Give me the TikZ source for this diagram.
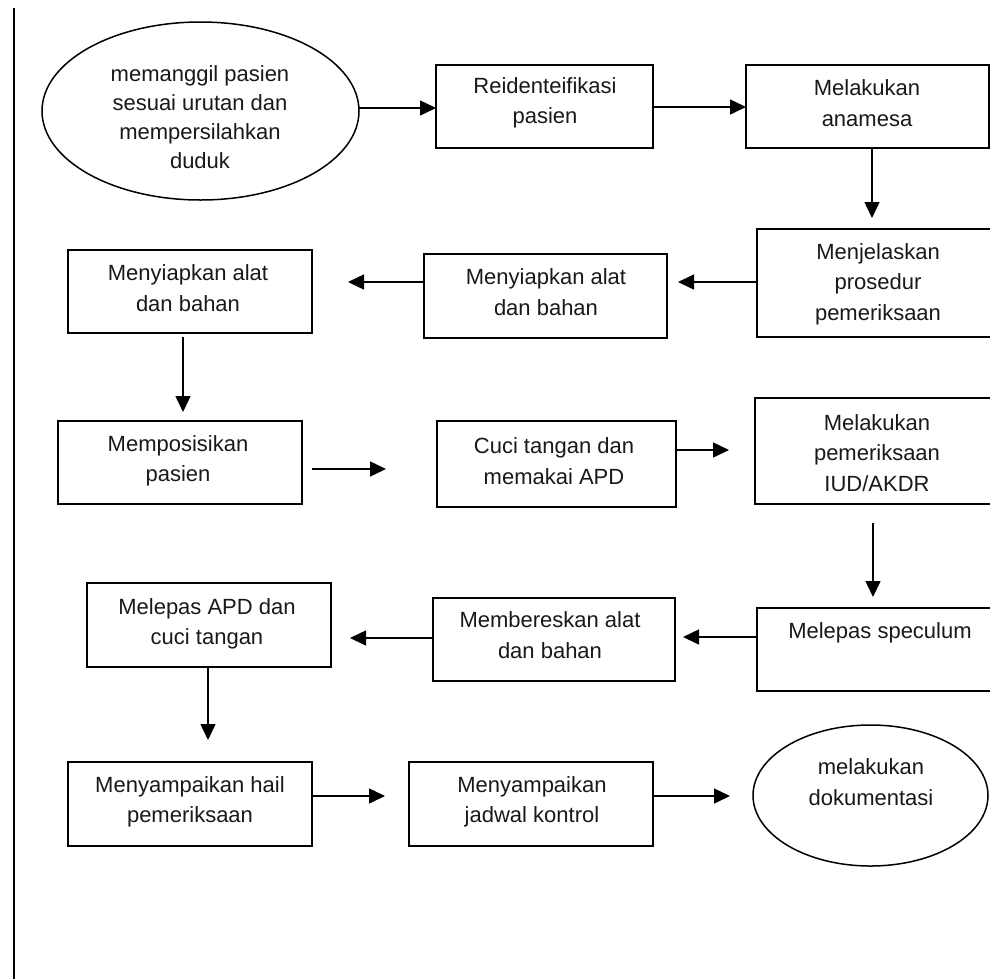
\documentclass[tikz,border=0pt]{standalone}
\usepackage{fontspec}
\setmainfont{Liberation Sans}
\usetikzlibrary{arrows.meta,shapes.geometric,calc}
\begin{document}
\begin{tikzpicture}[x=1pt,y=-1pt,
  box/.style={draw, line width=1.5pt, rectangle, inner sep=0pt, outer sep=0pt},
  oval/.style={draw, line width=1.5pt, ellipse, inner sep=0pt, outer sep=0pt},
  txt/.style={align=center, inner sep=0pt, text=black!90, font=\fontsize{22}{30.5}\selectfont},
  arr/.style={line width=1.5pt, -{Triangle[length=16pt,width=15pt]}}]
\useasboundingbox (0,0) rectangle (990,978);
\clip (0,0) rectangle (990,978);
\fill[white] (0,0) rectangle (990,978);
% left vertical rule
\coordinate (rt) at (14,8);
\coordinate (rb) at (14,980);
\draw[line width=2pt] (rt) -- (rb);
% shapes
\node[oval, minimum width=317pt, minimum height=178pt] (e1) at (200.5,111) {};
\node[box, minimum width=217pt, minimum height=83pt] (reid) at (544.5,106.5) {};
\node[box, minimum width=243pt, minimum height=83pt] (anam) at (867.5,106.5) {};
\node[box, minimum width=243pt, minimum height=108pt] (jelas) at (878.5,283) {};
\node[box, minimum width=243pt, minimum height=84pt] (siap2) at (545.5,296) {};
\node[box, minimum width=244pt, minimum height=83pt] (siap1) at (190,291.5) {};
\node[box, minimum width=244pt, minimum height=83pt] (posisi) at (180,462.5) {};
\node[box, minimum width=239pt, minimum height=86pt] (cuci) at (556.5,464) {};
\node[box, minimum width=245pt, minimum height=106pt] (periksa) at (877.5,451) {};
\node[box, minimum width=243pt, minimum height=83pt] (spec) at (878.5,649.5) {};
\node[box, minimum width=242pt, minimum height=83pt] (beres) at (554,639.5) {};
\node[box, minimum width=244pt, minimum height=84pt] (apd) at (209,625) {};
\node[box, minimum width=244pt, minimum height=84pt] (hail) at (190,804) {};
\node[box, minimum width=244pt, minimum height=84pt] (jadwal) at (531,804) {};
\node[oval, minimum width=235pt, minimum height=141pt] (dok) at (870.5,795.5) {};
% texts
\node[txt, font=\fontsize{22}{29}\selectfont] (t1) at (200,117) {memanggil pasien\\sesuai urutan dan\\mempersilahkan\\duduk};
\node[txt] (t2) at (545,103) {Reidenteifikasi\\pasien};
\node[txt] (t3) at (867,103) {Melakukan\\anamesa};
\node[txt] (t4) at (878,284) {Menjelaskan\\prosedur\\pemeriksaan};
\node[txt] (t5) at (546,292) {Menyiapkan alat\\dan bahan};
\node[txt] (t6) at (188,288) {Menyiapkan alat\\dan bahan};
\node[txt] (t7) at (178,461) {Memposisikan\\pasien};
\node[txt] (t8) at (554,461) {Cuci tangan dan\\memakai APD};
\node[txt] (t9) at (877,453) {Melakukan\\pemeriksaan\\IUD/AKDR};
\node[txt] (t10) at (880,633) {Melepas speculum};
\node[txt] (t11) at (550,635) {Membereskan alat\\dan bahan};
\node[txt] (t12) at (207,624) {Melepas APD dan\\cuci tangan};
\node[txt] (t13) at (190,802) {Menyampaikan hail\\pemeriksaan};
\node[txt] (t14) at (532,802) {Menyampaikan\\jadwal kontrol};
\node[txt] (t15) at (871,782) {melakukan\\dokumentasi};
% helper levels for connectors
\coordinate (h108) at (0,108);
\coordinate (h107) at (0,107);
\coordinate (v872) at (872,0);
\coordinate (h282) at (0,282);
\coordinate (v183) at (183,0);
\coordinate (h469) at (0,469);
\coordinate (h450) at (0,450);
\coordinate (v873) at (873,0);
\coordinate (h637) at (0,637);
\coordinate (h638) at (0,638);
\coordinate (v208) at (208,0);
\coordinate (h796) at (0,796);
% connectors
\draw[arr] (e1.east |- h108) -- (reid.west |- h108);
\draw[arr] (reid.east |- h107) -- (anam.west |- h107);
\draw[arr, shorten >=11pt] (anam.south -| v872) -- (jelas.north -| v872);
\draw[arr, shorten >=11pt] (jelas.west |- h282) -- (siap2.east |- h282);
\draw[arr, shorten >=36pt] (siap2.west |- h282) -- (siap1.east |- h282);
\draw[arr, shorten <=4pt, shorten >=9pt] (siap1.south -| v183) -- (posisi.north -| v183);
\draw[arr, shorten <=10pt, shorten >=51pt] (posisi.east |- h469) -- (cuci.west |- h469);
\draw[arr, shorten >=26pt] (cuci.east |- h450) -- (periksa.west |- h450);
\draw[arr, shorten <=19pt, shorten >=11pt] (periksa.south -| v873) -- (spec.north -| v873);
\draw[arr, shorten >=8pt] (spec.west |- h637) -- (beres.east |- h637);
\draw[arr, shorten >=19pt] (beres.west |- h638) -- (apd.east |- h638);
\draw[arr, shorten >=22pt] (apd.south -| v208) -- (hail.north -| v208);
\draw[arr, shorten >=24pt] (hail.east |- h796) -- (jadwal.west |- h796);
\draw[arr, shorten >=23pt] (jadwal.east |- h796) -- (dok.west |- h796);
\end{tikzpicture}
\end{document}
